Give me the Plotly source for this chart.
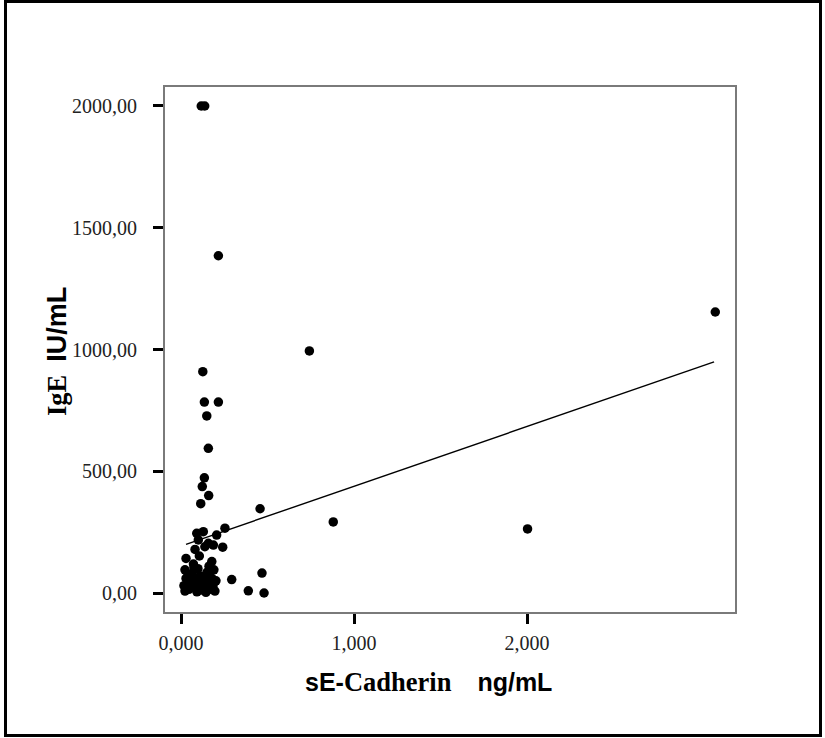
import plotly.graph_objects as go

# ---- data ----
cadherin = [
    0.117, 0.137, 0.216, 0.126, 0.135, 0.216, 0.149, 0.158, 0.135, 0.123,
    0.160, 0.114, 0.457, 0.742, 0.880, 3.088, 2.003, 0.293, 0.468, 0.389,
    0.480,
    0.254, 0.206, 0.129, 0.091, 0.100, 0.158, 0.187, 0.138, 0.241, 0.081,
    0.106, 0.029, 0.072, 0.178,
    0.023, 0.029, 0.017, 0.023, 0.046, 0.052, 0.063, 0.075, 0.081, 0.087,
    0.092, 0.098, 0.104, 0.110, 0.115, 0.121, 0.133, 0.138, 0.144, 0.150,
    0.156, 0.162, 0.167, 0.179, 0.185, 0.190, 0.196, 0.202, 0.040, 0.173,
]
ige = [
    2000, 2000, 1385, 909, 784, 784, 727, 594, 473, 437,
    400, 367, 346, 994, 292, 1154, 263, 55, 82, 9,
    0,
    266, 238, 252, 245, 218, 204, 197, 190, 188, 179,
    152, 142, 119, 129,
    95, 60, 30, 8, 15, 45, 80, 105, 25, 55,
    5, 100, 35, 70, 12, 48, 20, 65, 3, 85,
    40, 110, 15, 60, 30, 95, 8, 50, 70, 20,
]
fit_x = [0.029, 3.081]
fit_y = [200, 949]

x_tickvals = [0, 1, 2]
x_ticktext = ["0,000", "1,000", "2,000"]
y_tickvals = [0, 500, 1000, 1500, 2000]
y_ticktext = ["0,00", "500,00", "1000,00", "1500,00", "2000,00"]

SERIF = "Liberation Serif, Times New Roman, serif"
SANS = "Liberation Sans, Arial, sans-serif"

W, H = 825, 738
L, R, T, B = 165, 90, 87, 126

fig = go.Figure()
fig.add_trace(go.Scatter(
    x=fit_x, y=fit_y, mode="lines",
    line=dict(color="black", width=1.4), hoverinfo="skip", showlegend=False))
fig.add_trace(go.Scatter(
    x=cadherin, y=ige, mode="markers",
    marker=dict(color="black", size=9.5, line=dict(width=0)), showlegend=False))

axis_common = dict(
    showgrid=False, zeroline=False, showline=True, mirror=True,
    linecolor="#7a7a7a", linewidth=2,
    ticks="outside", ticklen=10, tickwidth=3, tickcolor="black",
    tickfont=dict(family=SERIF, size=20, color="#222222"),
)

fig.update_layout(
    width=W, height=H,
    margin=dict(l=L, r=R, t=T, b=B),
    paper_bgcolor="white", plot_bgcolor="white",
    xaxis=dict(range=[-0.0925, 3.202], tickvals=x_tickvals, ticktext=x_ticktext,
               ticklabelstandoff=2, **axis_common),
    yaxis=dict(range=[-78, 2078], tickvals=y_tickvals, ticktext=y_ticktext,
               ticklabelstandoff=12, **axis_common),
)

pw = W - L - R
ph = H - T - B

def px_x(p):
    return (p - L) / pw

def px_y(p):
    return (H - B - p) / ph

# outer frame
fig.add_shape(type="rect", xref="paper", yref="paper",
              x0=px_x(5.5), x1=px_x(820.5), y0=px_y(735.5), y1=px_y(1.5),
              line=dict(color="black", width=3), fillcolor="rgba(0,0,0,0)")

nb = "\u00a0"
xsans = f"font-family:{SANS};font-size:25px"
xserif = f"font-family:{SERIF};font-size:26.5px"
ysans = f"font-family:{SANS};font-size:27px"
yserif = f"font-family:{SERIF};font-size:26.5px"
xtitle = (f'<span style="{xsans}">sE-</span>'
          f'<span style="{xserif}">Cadherin</span>'
          f'{nb*4}'
          f'<span style="{xsans}">ng/mL</span>')
ytitle = (f'<span style="{yserif}">IgE</span>'
          f'{nb*2}'
          f'<span style="{ysans}">IU/mL</span>')

fig.add_annotation(xref="paper", yref="paper", x=px_x(428), y=px_y(682),
                   xanchor="center", yanchor="middle", showarrow=False,
                   text=f"<b>{xtitle}</b>",
                   font=dict(size=26, color="black", family=SERIF))
fig.add_annotation(xref="paper", yref="paper", x=px_x(57), y=px_y(352),
                   xanchor="center", yanchor="middle", showarrow=False,
                   textangle=-90,
                   text=f"<b>{ytitle}</b>",
                   font=dict(size=26, color="black", family=SERIF))

fig.write_html("out.html")
